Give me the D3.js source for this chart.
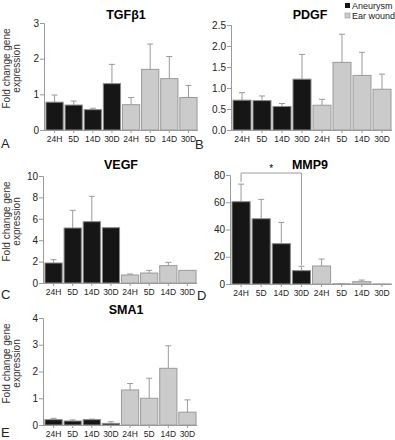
<!DOCTYPE html>
<html>
<head>
<meta charset="utf-8">
<script src="https://cdn.jsdelivr.net/npm/d3@7"></script>
<style>
  body { margin: 0; background: #fff; }
  svg { display: block; font-family: "Liberation Sans", Arial, sans-serif; }
</style>
</head>
<body>
<div id="chart"></div>
<script>
// x categories: 4 aneurysm time points then 4 ear wound time points
const timepoints = ['24H', '5D', '14D', '30D', '24H', '5D', '14D', '30D'];
const groups = ['Aneurysm', 'Aneurysm', 'Aneurysm', 'Aneurysm', 'Ear wound', 'Ear wound', 'Ear wound', 'Ear wound'];
const legendLabels = ['Aneurysm', 'Ear wound'];

// means and upper error (SEM) per gene
const tgfMean = [0.78, 0.70, 0.57, 1.30, 0.71, 1.70, 1.44, 0.91];
const tgfErr  = [0.20, 0.11, 0.04, 0.54, 0.20, 0.71, 0.62, 0.34];
const pdgfMean = [0.71, 0.70, 0.56, 1.21, 0.59, 1.61, 1.30, 0.97];
const pdgfErr  = [0.18, 0.11, 0.07, 0.59, 0.14, 0.67, 0.55, 0.36];
const vegfMean = [1.87, 5.14, 5.73, 5.17, 0.75, 0.93, 1.62, 1.18];
const vegfErr  = [0.31, 1.65, 2.37, 0, 0.09, 0.25, 0.31, 0];
const mmpMean = [60.4, 47.9, 29.6, 9.8, 13.2, 0.2, 1.7, 0.1];
const mmpErr  = [12.9, 14.2, 15.6, 3.2, 5.1, 0.2, 1.2, 0];
const smaMean = [0.20, 0.15, 0.20, 0.06, 1.31, 1.00, 2.12, 0.48];
const smaErr  = [0.05, 0.04, 0.02, 0.06, 0.24, 0.75, 0.84, 0.46];

// y tick values
const tgfTicks = [0, 1, 2, 3];
const pdgfTicks = [0, 0.5, 1.0, 1.5, 2.0, 2.5];
const vegfTicks = [0, 2, 4, 6, 8, 10];
const mmpTicks = [0, 20, 40, 60, 80];
const smaTicks = [0, 1, 2, 3, 4];

const W = 395, H = 440;
const DARK = '#161616', LIGHT = '#cbcbcb';
const AXIS = '#9a9a9a';

const svg = d3.select('#chart').append('svg')
  .attr('width', W).attr('height', H);

const panels = [
  { title: 'TGF\u03b21', letter: 'A', mean: tgfMean, err: tgfErr, ticks: tgfTicks, fmt: d3.format('d'),
    x0: 44, x1: 198, y0: 130, y1: 23, tx: 126, ty: 19, lx: 1, ly: 148, ylab: true },
  { title: 'PDGF', letter: 'B', mean: pdgfMean, err: pdgfErr, ticks: pdgfTicks, fmt: d3.format('.1f'),
    x0: 231, x1: 392, y0: 130, y1: 25, tx: 310, ty: 19, lx: 195, ly: 149, ylab: false },
  { title: 'VEGF', letter: 'C', mean: vegfMean, err: vegfErr, ticks: vegfTicks, fmt: d3.format('d'),
    x0: 43, x1: 197, y0: 283, y1: 176, tx: 121, ty: 169, lx: 1, ly: 299, ylab: true },
  { title: 'MMP9', letter: 'D', mean: mmpMean, err: mmpErr, ticks: mmpTicks, fmt: d3.format('d'),
    x0: 230, x1: 392, y0: 284, y1: 175, tx: 310, ty: 169, lx: 197, ly: 300, ylab: false },
  { title: 'SMA1', letter: 'E', mean: smaMean, err: smaErr, ticks: smaTicks, fmt: d3.format('d'),
    x0: 43, x1: 197, y0: 425, y1: 318, tx: 126, ty: 314, lx: 1, ly: 437, ylab: true }
];

panels.forEach(p => {
  const g = svg.append('g');
  const x = d3.scaleBand().domain(d3.range(timepoints.length))
    .range([p.x0 + 1, p.x1]).paddingInner(0.1).paddingOuter(0.05);
  const y = d3.scaleLinear().domain([0, d3.max(p.ticks)]).range([p.y0, p.y1]);
  p.x = x; p.y = y;

  // error bars (upper only) drawn behind bars
  const eb = g.append('g');
  p.mean.forEach((m, i) => {
    if (!p.err[i]) return;
    const cx = x(i) + x.bandwidth() / 2;
    eb.append('line').attr('x1', cx).attr('x2', cx)
      .attr('y1', y(m)).attr('y2', y(m + p.err[i]))
      .attr('stroke', AXIS).attr('stroke-width', 1);
    eb.append('line').attr('x1', cx - 3).attr('x2', cx + 3)
      .attr('y1', y(m + p.err[i])).attr('y2', y(m + p.err[i]))
      .attr('stroke', AXIS).attr('stroke-width', 1);
  });

  g.selectAll('rect.bar').data(p.mean).enter().append('rect')
    .attr('class', 'bar')
    .attr('x', (d, i) => x(i))
    .attr('y', d => y(d))
    .attr('width', x.bandwidth())
    .attr('height', d => y(0) - y(d))
    .attr('fill', (d, i) => groups[i] === 'Aneurysm' ? DARK : LIGHT)
    .attr('stroke', (d, i) => groups[i] === 'Aneurysm' ? '#8a8a8a' : '#9a9a9a')
    .attr('stroke-width', 1);

  // y axis
  const ya = g.append('g').attr('transform', `translate(${p.x0},0)`)
    .call(d3.axisLeft(y).tickValues(p.ticks).tickFormat(p.fmt).tickSizeOuter(0).tickSize(4));
  ya.select('.domain').attr('stroke', AXIS);
  ya.selectAll('line').attr('stroke', AXIS);
  ya.selectAll('text').attr('font-size', 10).attr('fill', '#222').attr('x', -5);

  // x axis
  const xa = g.append('g').attr('transform', `translate(0,${p.y0})`)
    .call(d3.axisBottom(x).tickFormat(i => timepoints[i]).tickSizeOuter(0).tickSize(3));
  xa.select('.domain').attr('stroke', AXIS).attr('d', `M${p.x0},0.5H${p.x1}`);
  xa.selectAll('line').attr('stroke', AXIS);
  xa.selectAll('text').attr('font-size', 8.5).attr('fill', '#222').attr('y', 6);

  g.append('text').attr('x', p.tx).attr('y', p.ty)
    .attr('text-anchor', 'middle').attr('font-weight', 'bold').attr('font-size', 12.5)
    .text(p.title);

  g.append('text').attr('x', p.lx).attr('y', p.ly)
    .attr('font-size', 13).attr('fill', '#222').text(p.letter);

  if (p.ylab) {
    const cy = (p.y0 + p.y1) / 2 - 8;
    const lab = g.append('text').attr('transform', `translate(10,${cy}) rotate(-90)`)
      .attr('text-anchor', 'middle').attr('font-size', 10).attr('fill', '#333');
    lab.append('tspan').attr('x', 0).attr('dy', 0).text('Fold change gene');
    lab.append('tspan').attr('x', 0).attr('dy', 10).text('expression');
  }
});

// significance bracket on MMP9 (24H vs 30D aneurysm)
const d = panels[3];
const bx1 = d.x(0) + d.x.bandwidth() / 2;
const bx2 = d.x(3) + d.x.bandwidth() / 2;
const by = d.y(80) - 2;
svg.append('path')
  .attr('d', `M${bx1},${d.y(d.mean[0] + d.err[0]) - 2}V${by}H${bx2}V${d.y(d.mean[3] + d.err[3]) - 1}`)
  .attr('fill', 'none').attr('stroke', AXIS).attr('stroke-width', 1);
svg.append('text').attr('x', (bx1 + bx2) / 2).attr('y', by - 1)
  .attr('text-anchor', 'middle').attr('font-size', 10).text('*');

// legend
const legend = svg.append('g').attr('transform', 'translate(345,0)');
legendLabels.forEach((l, i) => {
  legend.append('rect').attr('x', 0).attr('y', 3 + i * 10).attr('width', 5).attr('height', 5)
    .attr('fill', i === 0 ? DARK : LIGHT).attr('stroke', i === 0 ? 'none' : '#9a9a9a').attr('stroke-width', 0.6);
  legend.append('text').attr('x', 7).attr('y', 8.5 + i * 10)
    .attr('font-size', 9).attr('fill', '#222').text(l);
});
</script>
</body>
</html>
